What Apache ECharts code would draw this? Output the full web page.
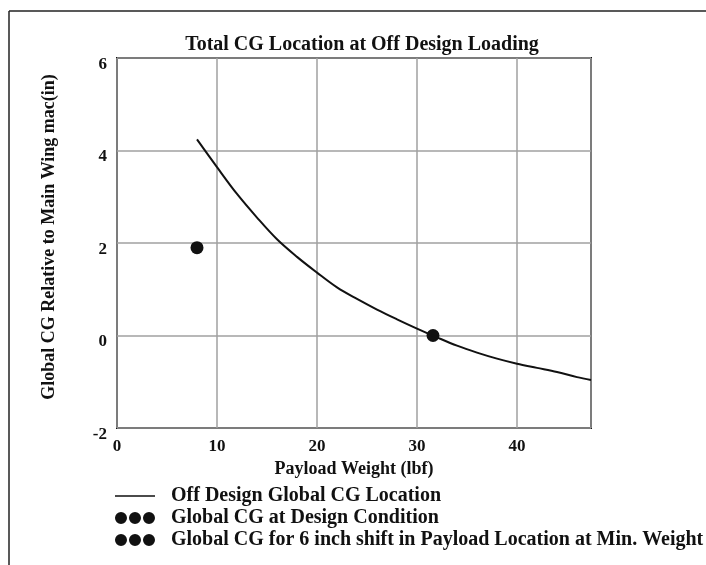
<!DOCTYPE html>
<html>
<head>
<meta charset="utf-8">
<script src="https://cdn.jsdelivr.net/npm/echarts@6/dist/echarts.min.js"></script>
<style>html,body{margin:0;padding:0;background:#fff;}#c{width:706px;height:565px;}</style>
</head>
<body>
<div id="c"></div>
<script>
// Data
const curveX = [8.0, 10.0, 12.0, 14.0, 16.0, 18.0, 20.0, 22.0, 24.0, 26.0, 28.0, 30.0, 32.0, 34.0, 36.0, 38.0, 40.0, 42.0, 44.0, 46.0, 47.4];
const curveY = [4.24, 3.64, 3.06, 2.55, 2.08, 1.70, 1.36, 1.04, 0.79, 0.56, 0.35, 0.15, -0.04, -0.22, -0.37, -0.50, -0.61, -0.70, -0.79, -0.90, -0.96];
const designX = [31.6];
const designY = [0.0];
const shiftX = [8.0];
const shiftY = [1.9];
const seriesNames = ['Off Design Global CG Location', 'Global CG at Design Condition', 'Global CG for 6 inch shift in Payload Location at Min. Weight'];
const titleText = 'Total CG Location at Off Design Loading';
const xName = 'Payload Weight (lbf)';
const yName = 'Global CG Relative to Main Wing mac(in)';

const zip = (a, b) => a.map((v, i) => [v, b[i]]);
const serif = '"Liberation Serif", "DejaVu Serif", serif';
const dotsIcon = 'path://M0,6a6,6 0 1,0 12,0a6,6 0 1,0 -12,0Z M14,6a6,6 0 1,0 12,0a6,6 0 1,0 -12,0Z M28,6a6,6 0 1,0 12,0a6,6 0 1,0 -12,0Z';
const lineIcon = 'path://M0,0L0.01,0L0,0Z M0,5.3H40V6.7H0Z M40,12L39.99,12L40,12Z';

const chart = echarts.init(document.getElementById('c'), null, {renderer: 'canvas'});
chart.setOption({
  backgroundColor: '#ffffff',
  animation: false,
  title: {
    text: titleText, left: 357, top: 30, textAlign: 'center',
    textStyle: {fontFamily: serif, fontWeight: 'bold', fontSize: 20, color: '#111'}
  },
  grid: {left: 117, right: 115, top: 58, bottom: 137, show: true, borderColor: '#111', borderWidth: 2, backgroundColor: 'transparent'},
  xAxis: {
    type: 'value', min: 0, max: 47.4, interval: 10,
    name: xName, nameLocation: 'middle', nameGap: 26,
    nameTextStyle: {fontFamily: serif, fontWeight: 'bold', fontSize: 18, color: '#111'},
    axisLine: {show: false}, axisTick: {show: false},
    axisLabel: {margin: 10, fontFamily: serif, fontWeight: 'bold', fontSize: 17, color: '#111', showMaxLabel: false,
      formatter: v => (Math.abs(v % 10) < 1e-9 ? String(v) : '')},
    splitLine: {lineStyle: {color: '#a0a0a0', width: 1.5}}
  },
  yAxis: {
    type: 'value', min: -2, max: 6, interval: 2,
    name: yName, nameLocation: 'middle', nameGap: 59, nameRotate: 90,
    nameTextStyle: {fontFamily: serif, fontWeight: 'bold', fontSize: 18, color: '#111', padding: [0, 0, 0, 12]},
    axisLine: {show: false}, axisTick: {show: false},
    axisLabel: {margin: 10, fontFamily: serif, fontWeight: 'bold', fontSize: 17, color: '#111', verticalAlign: 'top', lineHeight: 13},
    splitLine: {lineStyle: {color: '#a0a0a0', width: 1.5}}
  },
  legend: {
    orient: 'vertical', left: 115, top: 486, padding: 0, itemGap: 2, itemWidth: 40, itemHeight: 12,
    textStyle: {fontFamily: serif, fontWeight: 'bold', fontSize: 20, lineHeight: 20, color: '#111', padding: [0, 0, 0, 11]},
    data: [
      {name: seriesNames[0], icon: lineIcon},
      {name: seriesNames[1], icon: dotsIcon},
      {name: seriesNames[2], icon: dotsIcon}
    ]
  },
  graphic: [
    {type: 'line', shape: {x1: 9, y1: 11, x2: 706, y2: 11}, style: {stroke: '#222', lineWidth: 1.5}},
    {type: 'line', shape: {x1: 9, y1: 11, x2: 9, y2: 565}, style: {stroke: '#222', lineWidth: 1.5}}
  ],
  series: [
    {name: seriesNames[0], type: 'line', smooth: 0.35, symbol: 'none', data: zip(curveX, curveY),
      lineStyle: {color: '#111', width: 2}, itemStyle: {color: '#111'}},
    {name: seriesNames[1], type: 'scatter', symbolSize: 13, data: zip(designX, designY), itemStyle: {color: '#111', opacity: 1}},
    {name: seriesNames[2], type: 'scatter', symbolSize: 13, data: zip(shiftX, shiftY), itemStyle: {color: '#111', opacity: 1}}
  ]
});
</script>
</body>
</html>
